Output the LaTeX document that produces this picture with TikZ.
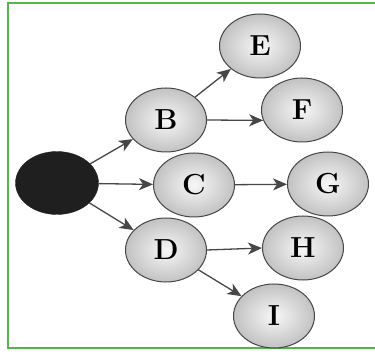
\documentclass[tikz,border=0pt]{standalone}
\usepackage{amssymb,amsmath,amsthm, tikz}
\usetikzlibrary{shapes.geometric,arrows.meta}
\definecolor{frame}{RGB}{82,182,72}
\begin{document}
\begin{tikzpicture}[x = 1pt, y = -1pt]
    \tikzstyle{ball} = [draw = gray!55!black, line width = 1pt, ellipse, minimum width = 81pt, minimum height = 64pt, inner sep = 0pt, shading = radial, inner color = gray!6, outer color = gray!48, font = \fontsize{29}{30}\selectfont\bfseries];
    \tikzstyle{root} = [draw = black!85, ellipse, fill = black!88, minimum width = 83pt, minimum height = 63pt, inner sep = 0pt];
    \tikzstyle{edge} = [draw = black!72, line width = 1.3pt, -{Stealth[length = 14pt, width = 12pt, inset = 4pt]}];
    \useasboundingbox (0,0) rectangle (375,358);
    \draw[frame, line width = 2pt] (378,3) -- (7.5,3) -- (7.5,348) -- (378,348);
    % points:
    \node[root] (a) at (57,183){};
    \node[ball] (b) at (166,120){B};
    \node[ball] (c) at (194,185){C};
    \node[ball] (d) at (166,250){D};
    \node[ball] (e) at (260,46){E};
    \node[ball] (f) at (302,110){F};
    \node[ball] (g) at (328,184){G};
    \node[ball] (h) at (303,248){H};
    \node[ball] (i) at (274,316){I};
    \draw[edge] (a) -- (b); \draw[edge] (a) -- (c); \draw[edge] (a) -- (d);
    \draw[edge] (b) -- (e); \draw[edge] (b.east) -- (f.195);
    \draw[edge] (c) -- (g);
    \draw[edge] (d.east) -- (h.west); \draw[edge] (d) -- (i);
  \end{tikzpicture}
\end{document}
